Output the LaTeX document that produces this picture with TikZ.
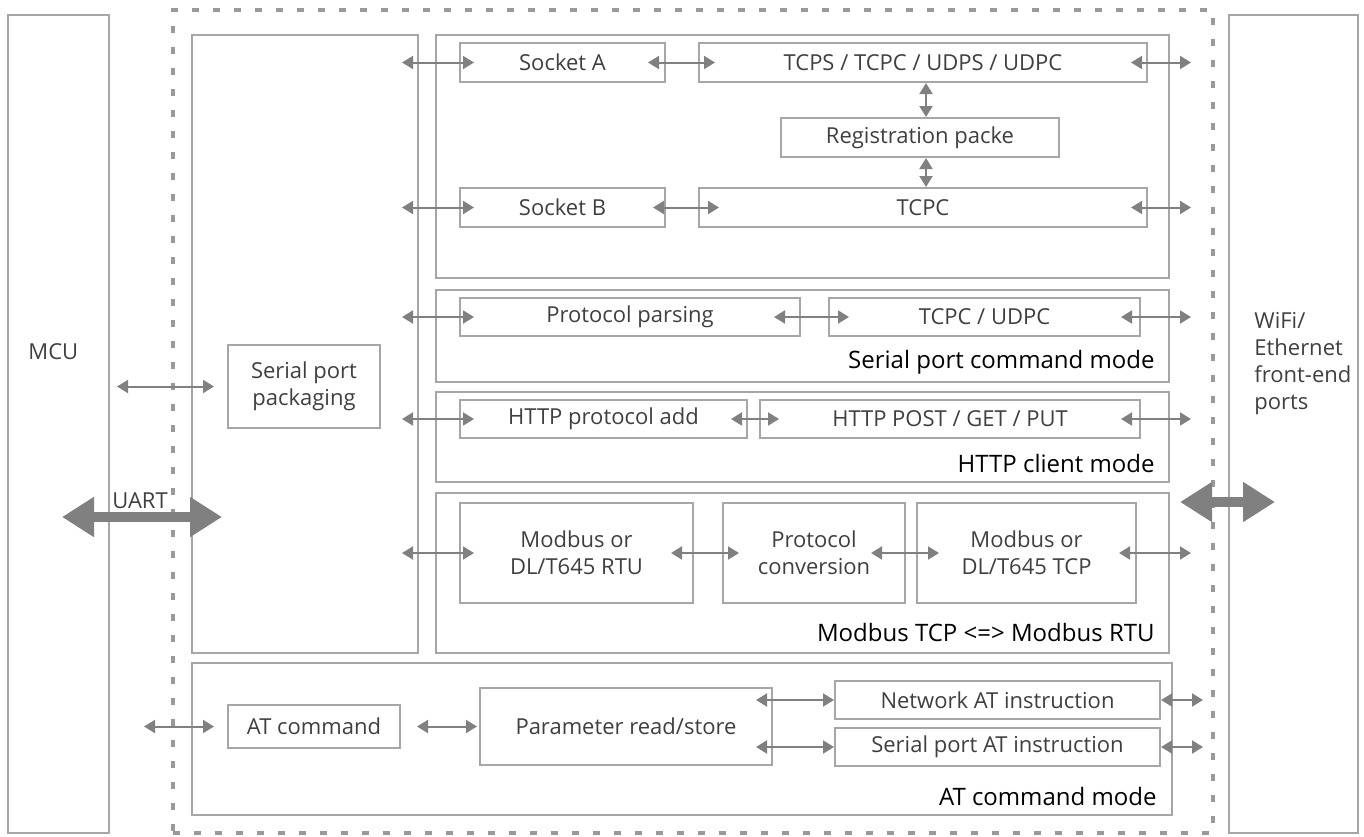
\documentclass[tikz,border=0pt]{standalone}
\usepackage{fontspec}
\setmainfont{Open Sans}
\usepackage{xcolor}
\usepackage{tikz}
\usetikzlibrary{arrows.meta}
\definecolor{linegray}{HTML}{A6A6A6}
\definecolor{dashgray}{HTML}{999999}
\definecolor{arrowgray}{HTML}{808080}
\definecolor{textgray}{HTML}{3F3F3F}
\tikzset{
  box/.style={draw=linegray, line width=1pt, inner sep=0pt, text=textgray, align=center,
    font=\fontsize{11}{13.5}\selectfont},
  sz/.style 2 args={minimum width=#1*0.5pt, minimum height=#2*0.5pt},
  dashbox/.style={draw=dashgray, line width=1.6pt, dash pattern=on 3.5pt off 7pt, inner sep=0pt},
  biarrow/.style={draw=arrowgray, line width=1pt,
    {Triangle[width=6.5pt,length=5.5pt]}-{Triangle[width=6.5pt,length=5.5pt]}},
  bigarrow/.style={draw=arrowgray, line width=5pt,
    {Triangle[width=19pt,length=16pt]}-{Triangle[width=19pt,length=16pt]}},
  modelabel/.style={anchor=base east, inner sep=0pt, font=\fontsize{12}{14}\selectfont},
  plaintext/.style={text=textgray, inner sep=0pt, align=left, font=\fontsize{11}{13.5}\selectfont}
}
\begin{document}
\begin{tikzpicture}[x=0.5pt,y=-0.5pt]
    \useasboundingbox (0,0) rectangle (1364,836);
    % outer parts
    \node[box,sz={101}{818}] (mcu) at (58.5,424) {};
    \node[plaintext,anchor=west] (mcutext) at (28,352) {MCU};
    \node[box,sz={129}{818}] (wifi) at (1293.5,424) {};
    \node[plaintext,anchor=north west] (wifitext) at (1254,312) {WiFi/\\Ethernet\\front-end\\ports};
    \node[dashbox,sz={1040}{823}] (module) at (693,421.5) {};
    % serial port column
    \node[box,sz={226}{618}] (column) at (305,344) {};
    \node[box,sz={152}{83}] (pack) at (304,386.5) {Serial port\\packaging};
    % socket group
    \node[box,sz={733}{243}] (sockgrp) at (802.5,156.5) {};
    \node[box,sz={205}{39}] (sa) at (562.5,62.5) {Socket A};
    \node[box,sz={448}{39}] (tcps) at (923,62.5) {TCPS / TCPC / UDPS / UDPC};
    \node[box,sz={278}{39}] (reg) at (920,137.5) {Registration packe};
    \node[box,sz={205}{39}] (sb) at (562.5,207.5) {Socket B};
    \node[box,sz={448}{39}] (tcpc) at (923,207.5) {TCPC};
    % serial port command mode
    \node[box,sz={733}{92}] (cmdgrp) at (802.5,336) {};
    \node[box,sz={340}{38}] (pp) at (630,317) {Protocol parsing};
    \node[box,sz={311}{38}] (tu) at (984.5,317) {TCPC / UDPC};
    \node[modelabel] (cmdlabel) at (1155,368) {Serial port command mode};
    % http client mode
    \node[box,sz={733}{90}] (httpgrp) at (802.5,437) {};
    \node[box,sz={287}{38}] (ha) at (603.5,419) {HTTP protocol add};
    \node[box,sz={380}{38}] (hp) at (950,419) {HTTP POST / GET / PUT};
    \node[modelabel] (httplabel) at (1155,472) {HTTP client mode};
    % modbus
    \node[box,sz={733}{160}] (mbgrp) at (802.5,573) {};
    \node[box,sz={233}{100}] (mr) at (576.5,553) {Modbus or\\DL/T645 RTU};
    \node[box,sz={182}{100}] (pc) at (814,553) {Protocol\\conversion};
    \node[box,sz={219}{100}] (mt) at (1026.5,553) {Modbus or\\DL/T645 TCP};
    \node[modelabel] (mblabel) at (1155,641) {Modbus TCP <=> Modbus RTU};
    % at command mode
    \node[box,sz={980}{152}] (atgrp) at (682,739) {};
    \node[box,sz={172}{43}] (atc) at (314,726.5) {AT command};
    \node[box,sz={292}{77}] (par) at (626,726.5) {Parameter read/store};
    \node[box,sz={325}{38}] (na) at (997.5,700) {Network AT instruction};
    \node[box,sz={325}{38}] (spa) at (997.5,747) {Serial port AT instruction};
    \node[modelabel] (atlabel) at (1157,805) {AT command mode};
    % big arrows
    \coordinate (uartl) at (62,517);
    \coordinate (uartr) at (222,517);
    \coordinate (netl) at (1180,502);
    \coordinate (netr) at (1275,502);
    \draw[bigarrow] (uartl) -- (uartr);
    \draw[bigarrow] (netl) -- (netr);
    \node[plaintext,anchor=base] (uart) at (140,508) {UART};
    % connectors
    \draw[biarrow] ([xshift=-55pt]pack.west) -- ([xshift=-6.5pt]pack.west);
    \draw[biarrow] ([xshift=-28.5pt]sa.west) -- ([xshift=7.5pt]sa.west);
    \draw[biarrow] ([xshift=-9pt]sa.east) -- ([xshift=8.5pt]tcps.west);
    \draw[biarrow] ([xshift=-8.5pt]tcps.east) -- ([xshift=21.5pt]tcps.east);
    \draw[biarrow] ([xshift=3pt]reg.north |- tcps.south) -- ([xshift=3pt]reg.north);
    \draw[biarrow] ([xshift=3pt]reg.south) -- ([xshift=3pt]reg.south |- tcpc.north);
    \draw[biarrow] ([xshift=-28.5pt]sb.west) -- ([xshift=7.5pt]sb.west);
    \draw[biarrow] ([xshift=-6.5pt]sb.east) -- ([xshift=10.5pt]tcpc.west);
    \draw[biarrow] ([xshift=-8.5pt]tcpc.east) -- ([xshift=21.5pt]tcpc.east);
    \draw[biarrow] ([xshift=-28.5pt]pp.west) -- ([xshift=7.5pt]pp.west);
    \draw[biarrow] ([xshift=-13.5pt]pp.east) -- ([xshift=10.5pt]tu.west);
    \draw[biarrow] ([xshift=-10pt]tu.east) -- ([xshift=25pt]tu.east);
    \draw[biarrow] ([xshift=-28.5pt]ha.west) -- ([xshift=7.5pt]ha.west);
    \draw[biarrow] ([xshift=-8.5pt]ha.east) -- ([xshift=10pt]hp.west);
    \draw[biarrow] ([xshift=-10pt]hp.east) -- ([xshift=25pt]hp.east);
    \draw[biarrow] ([xshift=-28.5pt]mr.west) -- ([xshift=7.5pt]mr.west);
    \draw[biarrow] ([xshift=-11.5pt]mr.east) -- ([xshift=8.5pt]pc.west);
    \draw[biarrow] ([xshift=-17.5pt]pc.east) -- ([xshift=11.5pt]mt.west);
    \draw[biarrow] ([xshift=-9pt]mt.east) -- ([xshift=27pt]mt.east);
    \draw[biarrow] ([xshift=-41.5pt]atc.west) -- ([xshift=-6.5pt]atc.west);
    \draw[biarrow] ([xshift=8pt]atc.east) -- ([xshift=-1pt]par.west);
    \draw[biarrow] ([xshift=-8.5pt]par.east |- na.west) -- (na.west);
    \draw[biarrow] ([xshift=-8.5pt]par.east |- spa.west) -- (spa.west);
    \draw[biarrow] (na.east) -- ([xshift=21pt]na.east);
    \draw[biarrow] (spa.east) -- ([xshift=21pt]spa.east);
\end{tikzpicture}
\end{document}
